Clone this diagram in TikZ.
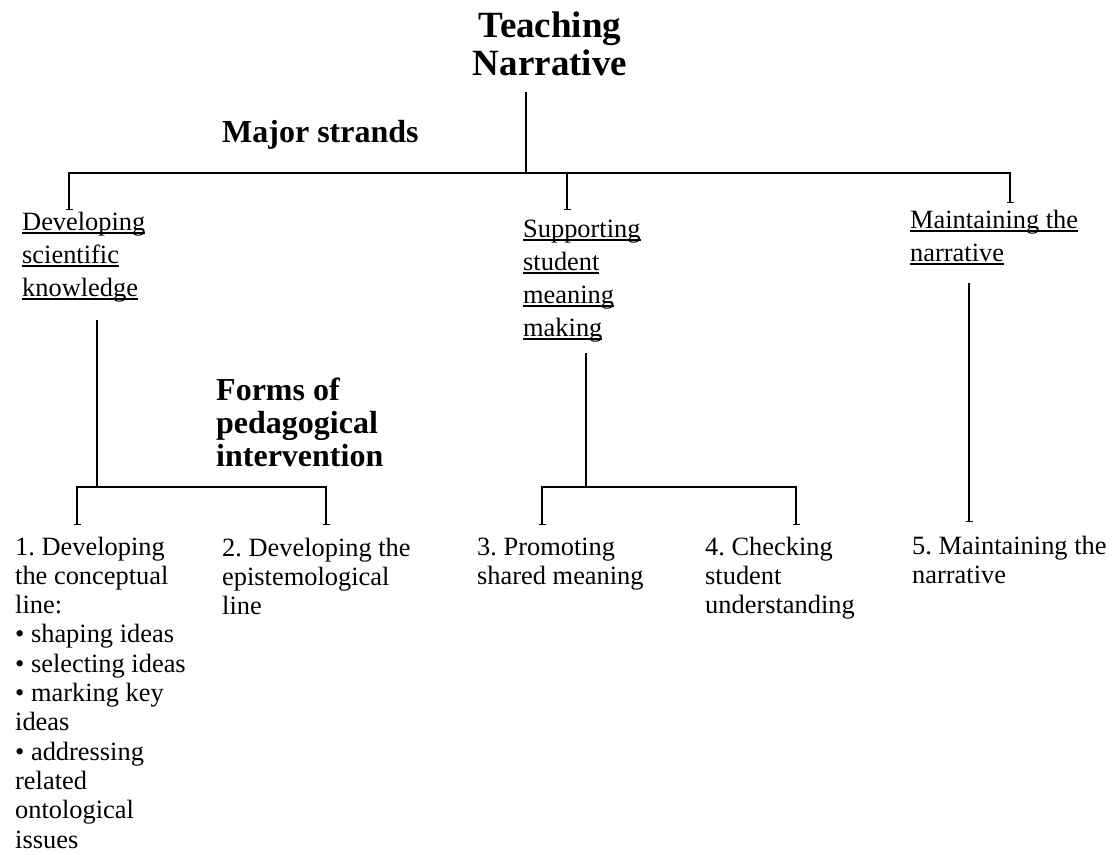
\documentclass[tikz,border=0pt]{standalone}
\usepackage{fontspec}
\setmainfont{Liberation Serif}
\usetikzlibrary{arrows.meta,positioning}
\frenchspacing
\newsavebox{\ulinebox}
\newcommand{\ulin}[1]{\sbox{\ulinebox}{#1}\rlap{\rule[-3.5pt]{\wd\ulinebox}{1.2pt}}\usebox{\ulinebox}}

\begin{document}
\begin{tikzpicture}[x=1pt,y=-1pt,
  link/.style={line width=1.5pt},
  tick/.style={line width=1.5pt,-{Bar[width=7pt,line width=1.5pt]}},
  head/.style={font=\fontsize{32}{33}\selectfont\bfseries,anchor=base west,align=left,inner sep=0pt},
  strand/.style={font=\fontsize{26.4}{33}\selectfont,anchor=base west,align=left,inner sep=0pt},
  form/.style={font=\fontsize{26.4}{29.3}\selectfont,anchor=base west,align=left,inner sep=0pt}]
\useasboundingbox (0,0) rectangle (1118,854);

% top of the tree (nodes sit on the baseline of their last line)
\node (title) at (550,75) [anchor=base,align=center,inner sep=0pt,
  font=\fontsize{37}{38}\selectfont\bfseries] {Teaching\\Narrative};
\node (strands) at (222,142) [head] {Major strands};

\coordinate (stem) at (526,92);
\coordinate (hub) at (526,173);
\coordinate (scienceend) at (69,210);
\coordinate (supportend) at (567,210);
\coordinate (keepend) at (1010,203);

\draw[link] (stem) -- (hub);
\draw[tick] (hub) -| (scienceend);
\draw[tick] (hub) -| (keepend);
\draw[tick] (supportend |- hub) -- (supportend);

% the three strands
\node (science) at (22,296) [strand] {\ulin{Developing}\\\ulin{scientific}\\\ulin{knowledge}};
\node (support) at (523,336) [strand] {\ulin{Supporting}\\\ulin{student}\\\ulin{meaning}\\\ulin{making}};
\node (keep) at (910,261) [strand] {\ulin{Maintaining the}\\\ulin{narrative}};

\node (forms) at (216,466) [head] {Forms of\\pedagogical\\intervention};

% forms of intervention
\coordinate (sciencestem) at (97,320);
\coordinate (sciencehub) at (97,487);
\coordinate (form1end) at (77,525);
\coordinate (form2end) at (326,525);
\draw[link] (sciencestem) -- (sciencehub);
\draw[tick] (sciencehub) -| (form1end);
\draw[tick] (sciencehub) -| (form2end);

\coordinate (supportstem) at (586,353);
\coordinate (supporthub) at (586,487);
\coordinate (form3end) at (542,525);
\coordinate (form4end) at (796,525);
\draw[link] (supportstem) -- (supporthub);
\draw[tick] (supporthub) -| (form3end);
\draw[tick] (supporthub) -| (form4end);

\coordinate (keepstem) at (969,283);
\coordinate (form5end) at (969,522);
\draw[tick] (keepstem) -- (form5end);

\node (form1) at (15,848) [form] {1. Developing\\the conceptual\\line:\\\textbullet{} shaping ideas\\\textbullet{} selecting ideas\\\textbullet{} marking key\\ideas\\\textbullet{} addressing\\related\\ontological\\issues};
\node (form2) at (222,614.6) [form] {2. Developing the\\epistemological\\line};
\node (form3) at (477,584.3) [form] {3. Promoting\\shared meaning};
\node (form4) at (705,613.6) [form] {4. Checking\\student\\understanding};
\node (form5) at (912,583.3) [form] {5. Maintaining the\\narrative};
\end{tikzpicture}
\end{document}
